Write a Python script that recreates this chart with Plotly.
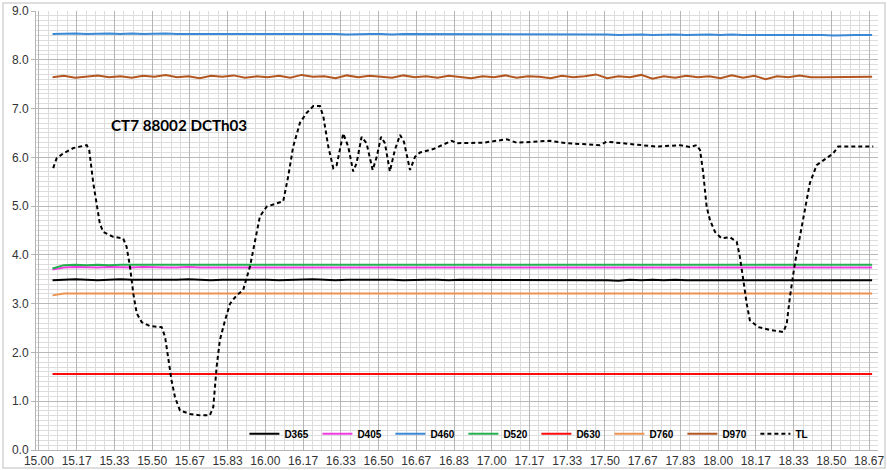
import plotly.graph_objects as go

# ---------------- data ----------------
TIME = [15.06, 15.11, 15.16, 15.21, 15.26, 15.31, 15.36, 15.41, 15.46, 15.51,
        15.56, 15.61, 15.66, 15.71, 15.76, 15.81, 15.86, 15.91, 15.96, 16.01,
        16.06, 16.11, 16.16, 16.21, 16.26, 16.31, 16.36, 16.41, 16.46, 16.51,
        16.56, 16.61, 16.66, 16.71, 16.76, 16.81, 16.86, 16.91, 16.96, 17.01,
        17.06, 17.11, 17.16, 17.21, 17.26, 17.31, 17.36, 17.41, 17.46, 17.51,
        17.56, 17.61, 17.66, 17.71, 17.76, 17.81, 17.86, 17.91, 17.96, 18.01,
        18.06, 18.11, 18.16, 18.21, 18.26, 18.31, 18.36, 18.41, 18.46, 18.51,
        18.56, 18.61, 18.66, 18.68]

D365 = [3.48, 3.49, 3.50, 3.49, 3.48, 3.49, 3.50, 3.49, 3.49, 3.48,
        3.49, 3.49, 3.50, 3.49, 3.48, 3.49, 3.49, 3.50, 3.49, 3.49,
        3.48, 3.49, 3.49, 3.50, 3.49, 3.48, 3.49, 3.49, 3.49, 3.50,
        3.49, 3.48, 3.49, 3.49, 3.49, 3.48, 3.49, 3.49, 3.48, 3.49,
        3.49, 3.48, 3.49, 3.49, 3.48, 3.49, 3.48, 3.49, 3.49, 3.48,
        3.47, 3.49, 3.48, 3.49, 3.48, 3.49, 3.48, 3.48, 3.49, 3.48,
        3.49, 3.48, 3.49, 3.48, 3.49, 3.48, 3.48, 3.49, 3.48, 3.48,
        3.48, 3.48, 3.48, 3.48]

D405 = [3.70, 3.74, 3.75, 3.74, 3.74, 3.75, 3.74, 3.74, 3.75, 3.74,
        3.74, 3.74, 3.75, 3.74, 3.74, 3.74, 3.75, 3.74, 3.74, 3.74,
        3.75, 3.74, 3.74, 3.74, 3.74, 3.75, 3.74, 3.74, 3.74, 3.74,
        3.74, 3.74, 3.75, 3.74, 3.74, 3.74, 3.74, 3.74, 3.74, 3.74,
        3.74, 3.74, 3.74, 3.74, 3.74, 3.74, 3.74, 3.74, 3.74, 3.74,
        3.74, 3.74, 3.74, 3.74, 3.74, 3.74, 3.74, 3.74, 3.74, 3.74,
        3.74, 3.74, 3.74, 3.74, 3.74, 3.74, 3.74, 3.74, 3.74, 3.74,
        3.74, 3.74, 3.74, 3.74]

D460 = [8.53, 8.54, 8.54, 8.53, 8.54, 8.54, 8.53, 8.54, 8.53, 8.54,
        8.54, 8.53, 8.53, 8.54, 8.53, 8.53, 8.54, 8.53, 8.53, 8.54,
        8.53, 8.53, 8.54, 8.53, 8.53, 8.53, 8.52, 8.53, 8.53, 8.53,
        8.52, 8.53, 8.53, 8.52, 8.53, 8.52, 8.53, 8.52, 8.52, 8.53,
        8.52, 8.52, 8.53, 8.52, 8.52, 8.52, 8.53, 8.52, 8.52, 8.52,
        8.51, 8.52, 8.52, 8.51, 8.52, 8.52, 8.51, 8.52, 8.52, 8.51,
        8.52, 8.51, 8.51, 8.52, 8.51, 8.51, 8.51, 8.52, 8.51, 8.50,
        8.51, 8.51, 8.51, 8.51]

D520 = [3.72, 3.79, 3.80, 3.79, 3.80, 3.79, 3.80, 3.80, 3.79, 3.80,
        3.79, 3.80, 3.79, 3.80, 3.79, 3.79, 3.80, 3.79, 3.80, 3.79,
        3.80, 3.79, 3.80, 3.80, 3.79, 3.80, 3.79, 3.79, 3.80, 3.79,
        3.80, 3.79, 3.80, 3.79, 3.79, 3.80, 3.79, 3.80, 3.79, 3.79,
        3.80, 3.79, 3.79, 3.80, 3.79, 3.80, 3.79, 3.80, 3.79, 3.79,
        3.80, 3.79, 3.80, 3.79, 3.80, 3.79, 3.79, 3.80, 3.79, 3.80,
        3.79, 3.80, 3.79, 3.80, 3.79, 3.80, 3.80, 3.79, 3.80, 3.80,
        3.80, 3.80, 3.80, 3.80]

D630 = [1.56, 1.56, 1.57, 1.56, 1.56, 1.56, 1.57, 1.56, 1.56, 1.56,
        1.56, 1.57, 1.56, 1.56, 1.56, 1.56, 1.56, 1.57, 1.56, 1.56,
        1.56, 1.56, 1.56, 1.56, 1.57, 1.56, 1.56, 1.56, 1.56, 1.56,
        1.56, 1.56, 1.56, 1.57, 1.56, 1.56, 1.56, 1.56, 1.56, 1.56,
        1.56, 1.56, 1.56, 1.56, 1.56, 1.56, 1.56, 1.56, 1.56, 1.56,
        1.56, 1.56, 1.56, 1.56, 1.56, 1.56, 1.56, 1.56, 1.56, 1.56,
        1.56, 1.56, 1.56, 1.56, 1.56, 1.56, 1.56, 1.56, 1.56, 1.56,
        1.56, 1.56, 1.56, 1.56]

D760 = [3.17, 3.21, 3.21, 3.21, 3.22, 3.21, 3.21, 3.21, 3.21, 3.22,
        3.21, 3.21, 3.21, 3.21, 3.21, 3.22, 3.21, 3.21, 3.21, 3.21,
        3.21, 3.21, 3.22, 3.21, 3.21, 3.21, 3.21, 3.21, 3.21, 3.21,
        3.21, 3.21, 3.21, 3.21, 3.21, 3.21, 3.21, 3.21, 3.21, 3.21,
        3.21, 3.21, 3.21, 3.21, 3.21, 3.21, 3.21, 3.21, 3.21, 3.21,
        3.21, 3.21, 3.21, 3.21, 3.21, 3.21, 3.21, 3.21, 3.21, 3.21,
        3.21, 3.21, 3.21, 3.21, 3.21, 3.21, 3.21, 3.21, 3.21, 3.21,
        3.21, 3.21, 3.21, 3.21]

D970 = [7.64, 7.67, 7.63, 7.66, 7.68, 7.64, 7.66, 7.63, 7.67, 7.65,
        7.69, 7.64, 7.66, 7.62, 7.67, 7.65, 7.68, 7.63, 7.66, 7.64,
        7.67, 7.63, 7.69, 7.65, 7.66, 7.62, 7.68, 7.64, 7.67, 7.65,
        7.63, 7.68, 7.64, 7.66, 7.63, 7.67, 7.65, 7.62, 7.66, 7.64,
        7.68, 7.63, 7.66, 7.65, 7.62, 7.67, 7.64, 7.66, 7.70, 7.62,
        7.66, 7.64, 7.69, 7.61, 7.66, 7.63, 7.67, 7.64, 7.66, 7.62,
        7.68, 7.63, 7.67, 7.60, 7.66, 7.64, 7.68, 7.64, 7.64, 7.64,
        7.64, 7.64, 7.65, 7.65]

TL_TIME = [15.063, 15.078, 15.107, 15.152, 15.211, 15.222, 15.240, 15.255, 15.269, 15.284,
           15.328, 15.372, 15.387, 15.402, 15.417, 15.432, 15.454, 15.490, 15.542, 15.557,
           15.571, 15.586, 15.601, 15.623, 15.667, 15.711, 15.755, 15.770, 15.785, 15.799,
           15.822, 15.844, 15.873, 15.902, 15.932, 15.954, 15.976, 16.006, 16.050, 16.079,
           16.101, 16.123, 16.153, 16.182, 16.212, 16.241, 16.256, 16.278, 16.300, 16.315,
           16.344, 16.366, 16.388, 16.403, 16.425, 16.447, 16.474, 16.492, 16.511, 16.528,
           16.550, 16.572, 16.595, 16.612, 16.639, 16.661, 16.683, 16.742, 16.823, 16.845,
           16.962, 17.066, 17.110, 17.257, 17.331, 17.478, 17.508, 17.625, 17.728, 17.831,
           17.875, 17.905, 17.920, 17.934, 17.949, 17.964, 17.986, 18.015, 18.052, 18.082,
           18.096, 18.111, 18.126, 18.140, 18.177, 18.229, 18.288, 18.303, 18.317, 18.339,
           18.361, 18.383, 18.405, 18.435, 18.479, 18.508, 18.530, 18.685]

TL = [5.78, 5.98, 6.08, 6.19, 6.25, 6.15, 5.47, 4.99, 4.64, 4.47,
      4.37, 4.34, 4.17, 3.76, 3.20, 2.80, 2.62, 2.54, 2.52, 2.32,
      1.91, 1.42, 1.08, 0.81, 0.74, 0.71, 0.71, 0.88, 1.71, 2.25,
      2.66, 3.00, 3.17, 3.28, 3.76, 4.30, 4.79, 4.99, 5.06, 5.10,
      5.61, 6.22, 6.71, 6.91, 7.05, 7.05, 6.84, 6.22, 5.78, 5.84,
      6.49, 6.22, 5.71, 5.88, 6.42, 6.29, 5.74, 6.01, 6.42, 6.29,
      5.71, 6.15, 6.46, 6.32, 5.74, 6.01, 6.10, 6.17, 6.34, 6.29,
      6.30, 6.37, 6.30, 6.34, 6.29, 6.25, 6.32, 6.27, 6.22, 6.25,
      6.21, 6.25, 6.15, 5.68, 4.99, 4.71, 4.47, 4.34, 4.36, 4.27,
      3.96, 3.49, 3.00, 2.66, 2.52, 2.46, 2.42, 2.59, 3.14, 3.83,
      4.37, 4.99, 5.47, 5.84, 5.98, 6.08, 6.22, 6.22]

X_TICK_LABELS = ["15.00", "15.17", "15.33", "15.50", "15.67", "15.83", "16.00", "16.17",
                 "16.33", "16.50", "16.67", "16.83", "17.00", "17.17", "17.33", "17.50",
                 "17.67", "17.83", "18.00", "18.17", "18.33", "18.50", "18.67"]

SERIES_NAMES = ["D365", "D405", "D460", "D520", "D630", "D760", "D970"]
SERIES_VALUES = [D365, D405, D460, D520, D630, D760, D970]
SERIES_COLORS = ["#000000", "#f03ce0", "#3a89d6", "#22b04e", "#ff0a0a", "#ee9250", "#b3561f"]

TITLE = "CT7 88002 DCTh03"

# ---------------- figure ----------------
fig = go.Figure()
for name, vals, col in zip(SERIES_NAMES, SERIES_VALUES, SERIES_COLORS):
    fig.add_trace(go.Scatter(x=TIME, y=vals, mode="lines", name=name,
                             line=dict(color=col, width=2)))
fig.add_trace(go.Scatter(x=TL_TIME, y=TL, mode="lines", name="TL",
                         line=dict(color="#000000", width=2, dash="4px,3px")))

fig.add_annotation(x=15.617, y=6.67, xref="x", yref="y", text="<b>" + TITLE + "</b>",
                   showarrow=False, font=dict(family="Lato", size=15.2, color="#000000"))

# chart-area border
fig.add_shape(type="rect", xref="paper", yref="paper",
              x0=-0.0392, x1=1.0083, y0=-0.041, y1=1.0182,
              line=dict(color="#d4d4d4", width=1.5), layer="below")

tickvals = [15 + i / 6 for i in range(len(X_TICK_LABELS))]

fig.update_layout(
    width=887, height=470,
    margin=dict(l=36, r=9, t=11, b=20, autoexpand=False),
    paper_bgcolor="white", plot_bgcolor="white",
    font=dict(family="Liberation Sans, Arial", color="#404040", size=12),
    showlegend=True,
    legend=dict(orientation="h", x=0.2475, y=0.037, xanchor="left", yanchor="middle",
                bgcolor="rgba(0,0,0,0)", font=dict(size=10, color="#000000",
                                                   family="Liberation Sans, Arial", weight="bold"),
                entrywidth=28, entrywidthmode="pixels", itemwidth=30,
                tracegroupgap=0),
    xaxis=dict(range=[14.987, 18.706], tickvals=tickvals, ticktext=X_TICK_LABELS,
               showgrid=True, gridcolor="#b5b5b5", gridwidth=1,
               minor=dict(tick0=15, dtick=1 / 24, showgrid=True, gridcolor="#dcdcdc", gridwidth=1),
               zeroline=False, showline=True, linecolor="#b5b5b5", linewidth=1,
               ticks="", tickfont=dict(size=12, color="#333333")),
    yaxis=dict(range=[0, 9], dtick=1, tick0=0, tickformat=".1f",
               showgrid=True, gridcolor="#b8b8b8", gridwidth=1,
               minor=dict(tick0=0, dtick=0.1, showgrid=True, gridcolor="#dddddd", gridwidth=1),
               zeroline=False, showline=True, linecolor="#b5b5b5", linewidth=1,
               ticks="outside", ticklen=4, tickcolor="#b5b5b5",
               tickfont=dict(size=12, color="#333333")),
)

fig.write_html("out.html", config={"displayModeBar": False},
               post_script="document.body.style.margin='0';document.body.style.padding='0';")
